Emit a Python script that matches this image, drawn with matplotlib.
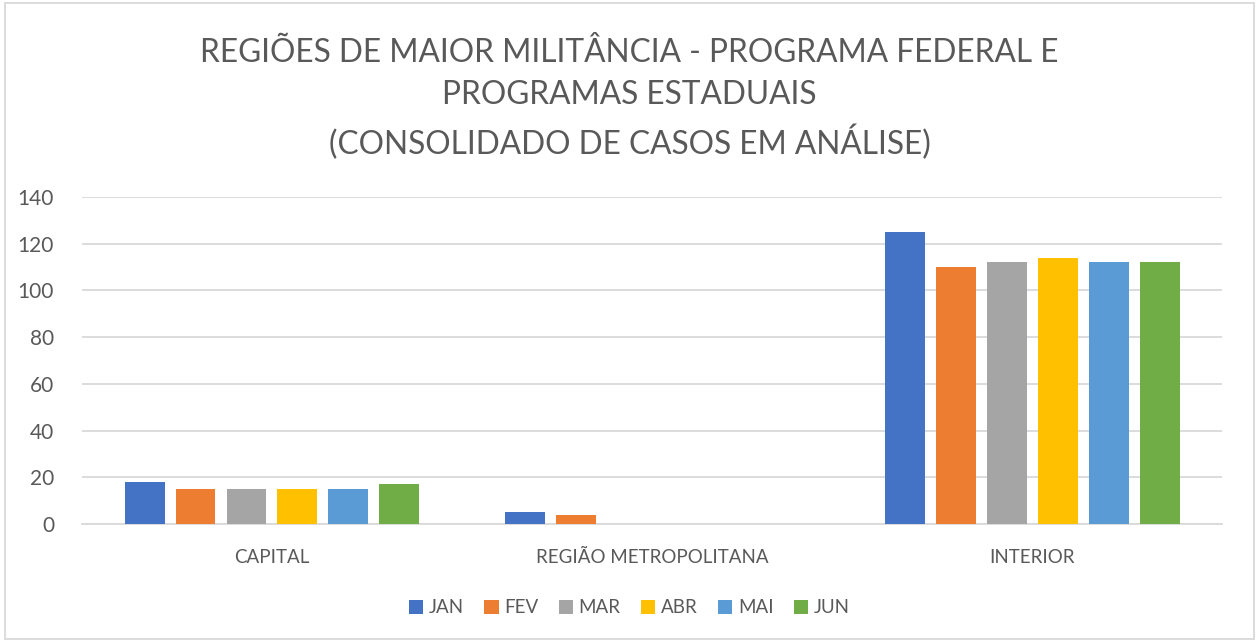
import numpy as np
import matplotlib.pyplot as plt
from matplotlib.patches import Rectangle

# data
categories = ["CAPITAL", "REGIÃO METROPOLITANA", "INTERIOR"]
months = ["JAN", "FEV", "MAR", "ABR", "MAI", "JUN"]
jan = [18, 5, 125]
fev = [15, 4, 110]
mar = [15, 0, 112]
abr = [15, 0, 114]
mai = [15, 0, 112]
jun = [17, 0, 112]
series = [jan, fev, mar, abr, mai, jun]
colors = ["#4472C4", "#ED7D31", "#A5A5A5", "#FFC000", "#5B9BD5", "#70AD47"]

txt = "#595959"
plt.rcParams['font.family'] = ['Lato', 'DejaVu Sans']

fig = plt.figure(figsize=(12.59, 6.42), dpi=100)
ax = fig.add_axes([0.065, 0.184, 0.906, 0.509])

x = np.arange(len(categories))
step = 0.134
width = 0.105
for i, (vals, c) in enumerate(zip(series, colors)):
    ax.bar(x + (i - 2.5) * step, vals, width, color=c, label=months[i], zorder=3)

ax.set_xlim(-0.5, 2.5)
ax.set_ylim(0, 140)
ax.set_yticks(range(0, 141, 20))
ax.set_xticks(x)
ax.set_xticklabels(categories, fontsize=13.5)
ax.grid(axis='y', color='#d9d9d9', linewidth=1.3, zorder=0)
for s in ['top', 'right', 'left']:
    ax.spines[s].set_visible(False)
ax.spines['bottom'].set_color('#d9d9d9')
ax.spines['bottom'].set_linewidth(1.3)
ax.tick_params(axis='both', length=0, colors=txt)
ax.tick_params(axis='y', pad=20, labelsize=15)
ax.tick_params(axis='x', pad=18)

fig.text(0.5, 0.846, "REGIÕES DE MAIOR MILITÂNCIA - PROGRAMA FEDERAL E\nPROGRAMAS ESTADUAIS\n(CONSOLIDADO DE CASOS EM ANÁLISE)",
         ha='center', va='center', fontsize=22.8, color=txt, linespacing=1.5)

fig.legend(loc='center', bbox_to_anchor=(0.5, 0.053), ncol=6, frameon=False,
           fontsize=13.5, labelcolor=txt, handlelength=0.75, handleheight=0.75,
           handletextpad=0.3, columnspacing=1.1)

fig.patches.append(Rectangle((0.004, 0.004), 0.992, 0.992, transform=fig.transFigure,
                             fill=False, edgecolor='#d9d9d9', linewidth=1.3))

fig.savefig("out.png", dpi=100)
